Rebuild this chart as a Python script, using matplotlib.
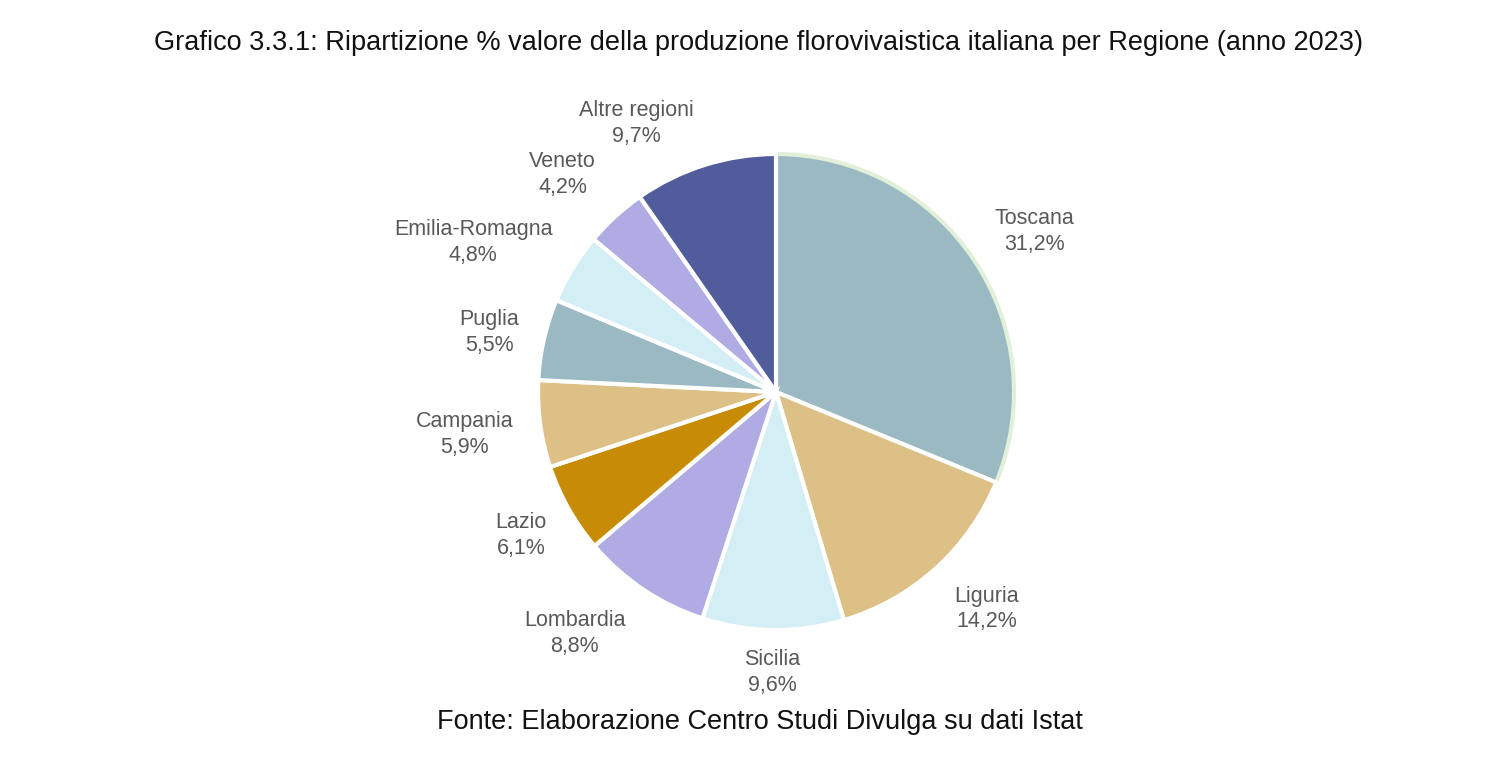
import numpy as np
import matplotlib.pyplot as plt

plt.rcParams['font.family'] = ['Liberation Sans', 'DejaVu Sans']

regioni = ["Toscana", "Liguria", "Sicilia", "Lombardia", "Lazio", "Campania",
           "Puglia", "Emilia-Romagna", "Veneto", "Altre regioni"]
quote = [31.2, 14.2, 9.6, 8.8, 6.1, 5.9, 5.5, 4.8, 4.2, 9.7]
colori = ["#9AB9C2", "#DDC086", "#D3EEF4", "#AFABE3", "#C78B06", "#DDC086",
          "#9AB9C2", "#D3EEF4", "#AFABE3", "#515C9C"]
# distanza e correzione d'angolo delle etichette
dist = [1.28, 1.27, 1.18, 1.32, 1.23, 1.32, 1.23, 1.42, 1.28, 1.27]
dang = [-2, 2, 0, -6, 0, 0, 1, 5, 2, 10]

fig = plt.figure(figsize=(15.06, 7.72), dpi=100)
ax = fig.add_axes([538 / 1506, 142 / 772, 476 / 1506, 476 / 772])

wedges, _ = ax.pie(quote, colors=colori, startangle=90, counterclock=False,
                   wedgeprops=dict(edgecolor="white", linewidth=3))
wedges[0].set_edgecolor("#E2EFD9")
wedges[0].set_zorder(0.5)

for w, nome, q, d, da in zip(wedges, regioni, quote, dist, dang):
    a = np.deg2rad((w.theta1 + w.theta2) / 2 + da)
    ax.text(d * np.cos(a), d * np.sin(a), "{}\n{}%".format(nome, str(q).replace(".", ",")),
            ha="center", va="center", fontsize=15.5, color="#595959",
            linespacing=1.3, clip_on=False)

ax.set_xlim(-1, 1)
ax.set_ylim(-1, 1)
ax.set_aspect("equal")
ax.axis("off")

fig.text(759 / 1506, 1 - 43 / 772, "Grafico 3.3.1: Ripartizione % valore della produzione florovivaistica italiana per Regione (anno 2023)",
         ha="center", va="center", fontsize=19.5, color="#111111")
fig.text(760 / 1506, 1 - 722 / 772, "Fonte: Elaborazione Centro Studi Divulga su dati Istat",
         ha="center", va="center", fontsize=19.5, color="#111111")

fig.savefig("out.png", dpi=100)
